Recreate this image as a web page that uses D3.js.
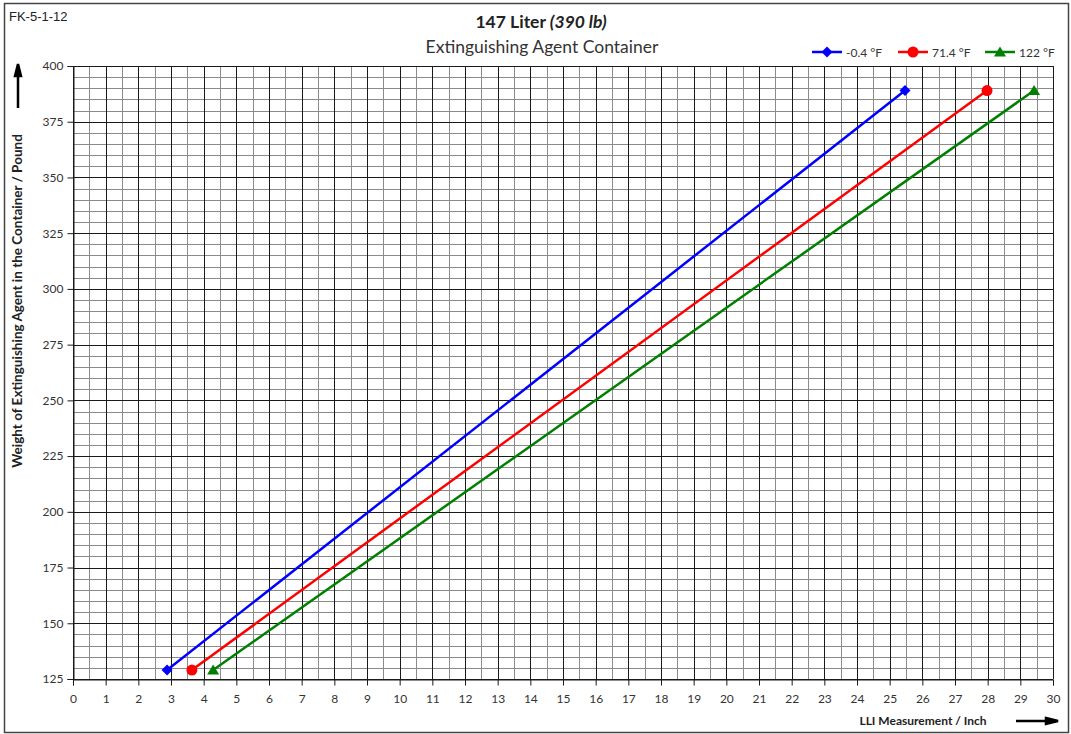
<!DOCTYPE html>
<html>
<head>
<meta charset="utf-8">
<script src="https://cdn.jsdelivr.net/npm/d3@7"></script>
<style>
body { margin: 0; background: #fff; }
text { font-family: Lato, "Open Sans", sans-serif; }
</style>
</head>
<body>
<div id="chart"></div>
<script>
var width = 1071,
    height = 734;

// data
var seriesNames = ["-0.4 °F", "71.4 °F", "122 °F"];
var seriesColors = ["#0000ff", "#ff0000", "#008000"];
var llis = [[2.88, 25.47], [3.64, 27.98], [4.29, 29.42]];
var weights = [[129, 389], [129, 389], [129, 389]];
var xTicks = d3.range(0, 31, 1);
var yTicks = [125, 150, 175, 200, 225, 250, 275, 300, 325, 350, 375, 400];

var margin = {left: 73, right: 18, top: 66, bottom: 55};

var x = d3.scaleLinear().domain([0, 30]).range([margin.left, width - margin.right]);
var y = d3.scaleLinear().domain([125, 400]).range([height - margin.bottom, margin.top]);

// marker shapes
var diamond = "M0,-5.5L5.5,0L0,5.5L-5.5,0Z";
var circle = d3.symbol().type(d3.symbolCircle).size(95)();
var triangle = "M0,-5.5L6,4.5L-6,4.5Z";
var markers = [diamond, circle, triangle];

var svg = d3.select("#chart")
    .append("svg")
    .attr("width", width)
    .attr("height", height);

svg.append("rect")
    .attr("x", 4.5).attr("y", 3.5)
    .attr("width", width - 7).attr("height", height - 5)
    .attr("fill", "white")
    .attr("stroke", "#444")
    .attr("stroke-width", 1.5);

// grid: minor first, then major
var grid = svg.append("g");
grid.selectAll(".vminor")
    .data(d3.range(0.5, 30, 1))
    .enter().append("line")
    .attr("x1", function(d){ return Math.round(x(d)) + 0.5 })
    .attr("x2", function(d){ return Math.round(x(d)) + 0.5 })
    .attr("y1", y(125)).attr("y2", y(400))
    .attr("stroke", "#8a8a8a");
grid.selectAll(".hminor")
    .data(d3.range(130, 400, 5).filter(function(d){ return d % 25 !== 0 }))
    .enter().append("line")
    .attr("y1", function(d){ return Math.round(y(d)) + 0.5 })
    .attr("y2", function(d){ return Math.round(y(d)) + 0.5 })
    .attr("x1", x(0)).attr("x2", x(30))
    .attr("stroke", "#8a8a8a");
grid.selectAll(".vmajor")
    .data(xTicks)
    .enter().append("line")
    .attr("x1", function(d){ return Math.round(x(d)) + 0.5 })
    .attr("x2", function(d){ return Math.round(x(d)) + 0.5 })
    .attr("y1", y(125)).attr("y2", y(400))
    .attr("stroke", "#1a1a1a");
grid.selectAll(".hmajor")
    .data(yTicks)
    .enter().append("line")
    .attr("y1", function(d){ return Math.round(y(d)) + 0.5 })
    .attr("y2", function(d){ return Math.round(y(d)) + 0.5 })
    .attr("x1", x(0)).attr("x2", x(30))
    .attr("stroke", "#1a1a1a");

// axes
var xAxis = svg.append("g")
    .attr("transform", "translate(0," + (Math.round(y(125)) + 0.5) + ")")
    .call(d3.axisBottom(x).tickValues(xTicks).tickSize(6).tickPadding(9));
var yAxis = svg.append("g")
    .attr("transform", "translate(" + (Math.round(x(0)) + 0.5) + ",0)")
    .call(d3.axisLeft(y).tickValues(yTicks).tickSize(6).tickPadding(4));
[xAxis, yAxis].forEach(function(a){
    a.select(".domain").attr("stroke", "#1a1a1a");
    a.selectAll(".tick line").attr("stroke", "#1a1a1a");
    a.selectAll("text").attr("fill", "#333").style("font-size", "12px")
        .style("font-family", "Lato, sans-serif");
});

// series
var line = d3.line()
    .x(function(d){ return x(d[0]) })
    .y(function(d){ return y(d[1]) });
seriesNames.forEach(function(name, i){
    var pts = llis[i].map(function(v, j){ return [v, weights[i][j]] });
    svg.append("path")
        .datum(pts)
        .attr("d", line)
        .attr("fill", "none")
        .attr("stroke", seriesColors[i])
        .attr("stroke-width", 2.5);
    svg.selectAll(".m" + i)
        .data(pts)
        .enter().append("path")
        .attr("d", markers[i])
        .attr("transform", function(d){ return "translate(" + x(d[0]) + "," + y(d[1]) + ")" })
        .attr("fill", seriesColors[i]);
});

// legend
var legendX = [812, 898, 985];
seriesNames.forEach(function(name, i){
    var g = svg.append("g").attr("transform", "translate(" + legendX[i] + ",52)");
    g.append("line").attr("x1", 0).attr("x2", 30)
        .attr("stroke", seriesColors[i]).attr("stroke-width", 2.5);
    g.append("path")
        .attr("d", markers[i])
        .attr("transform", "translate(15,0)")
        .attr("fill", seriesColors[i]);
    g.append("text").attr("x", 34).attr("y", 4.5)
        .attr("fill", "#333").style("font-size", "12px")
        .text(name);
});

// titles
var title = svg.append("text")
    .attr("x", 541).attr("y", 28)
    .attr("text-anchor", "middle")
    .attr("fill", "#222")
    .style("font-size", "17.5px")
    .style("font-weight", "bold");
title.append("tspan").text("147 Liter ");
title.append("tspan").style("font-style", "italic").text("(390 lb)");

svg.append("text")
    .attr("x", 542).attr("y", 53)
    .attr("text-anchor", "middle")
    .attr("fill", "#333")
    .style("font-size", "17.5px")
    .text("Extinguishing Agent Container");

svg.append("text")
    .attr("x", 9).attr("y", 21)
    .attr("fill", "#222")
    .style("font-family", "'Liberation Sans', Arial, sans-serif")
    .style("font-size", "13px")
    .text("FK-5-1-12");

svg.append("text")
    .attr("transform", "translate(22,301) rotate(-90)")
    .attr("text-anchor", "middle")
    .attr("fill", "#222")
    .style("font-size", "13.5px")
    .style("font-weight", "bold")
    .text("Weight of Extinguishing Agent in the Container / Pound");

svg.append("text")
    .attr("x", 923).attr("y", 725)
    .attr("text-anchor", "middle")
    .attr("fill", "#222")
    .style("font-size", "12px")
    .style("font-weight", "bold")
    .text("LLI Measurement / Inch");

// arrows
svg.append("path")
    .attr("d", "M18,108 L18,72 M15,76 L18,64 L21,76 Z")
    .attr("stroke", "#000").attr("stroke-width", 2.5).attr("fill", "#000");
svg.append("path")
    .attr("d", "M1016,721 L1050,721 M1046,718 L1058,721 L1046,724 Z")
    .attr("stroke", "#000").attr("stroke-width", 2.5).attr("fill", "#000");
</script>
</body>
</html>
